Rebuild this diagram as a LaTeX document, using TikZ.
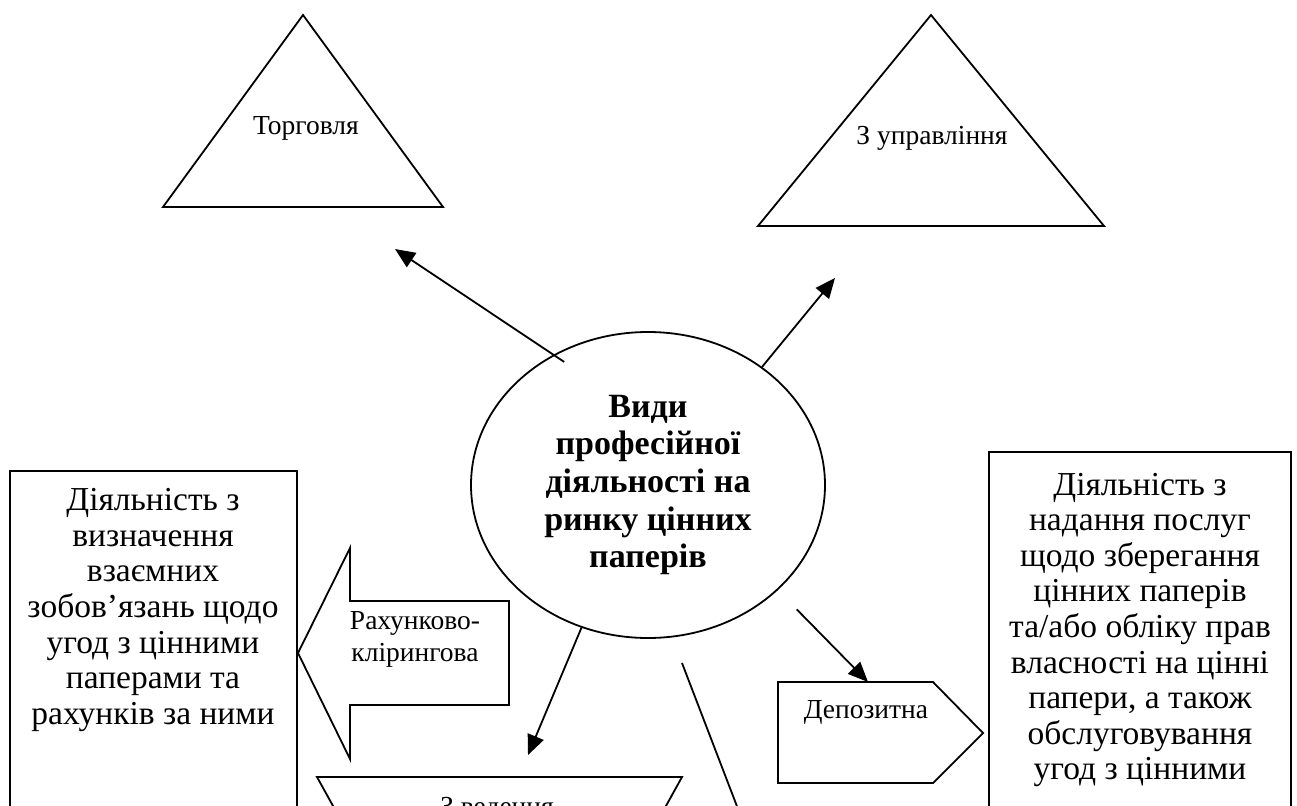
\documentclass[tikz,border=0pt]{standalone}
\usepackage{fontspec}
\setmainfont{Liberation Serif}
\usepackage{tikz}
\usetikzlibrary{arrows.meta,shapes}
\newcommand{\linew}{1.8pt}
\newcommand{\lblfont}{\fontsize{27.5}{32}\selectfont}
\newcommand{\boxfont}{\fontsize{33.5}{35.6}\selectfont}

\begin{document}
\begin{tikzpicture}[x=1pt, y=-1pt, line width=\linew]
                %\draw[help lines] (0,0) grid[step=50] (1297,805);
                \tikzset{lbl/.style = {font=\lblfont, inner sep=0pt, align=center}}
                \tikzset{boxtxt/.style = {font=\boxfont, inner sep=0pt, align=center}}
                \tikzset{arr/.style = {-{Triangle[length=20pt,width=17pt]}}}
                \useasboundingbox (0,0) rectangle (1297,805);
                \clip (0,0) rectangle (1297,805);

                % centre
                \node[ellipse, draw, minimum width=354pt, minimum height=306pt, inner sep=0pt,
                      font=\fontsize{34}{37.7}\selectfont\bfseries, align=center] (ell) at (648,485)
                      {Види\\професійної\\діяльності на\\ринку цінних\\паперів};

                % triangles
                \draw (303,15) -- (443,207) -- (163,207) -- cycle;
                \node[lbl] (torg) at (306,128) {Торговля};
                \draw (931,15) -- (1104,226) -- (758,226) -- cycle;
                \node[lbl] (upr) at (932,138) {З управління};

                % left
                \draw (10,900) -- (10,471) -- (297,471) -- (297,900);
                \node[boxtxt] (ltxt) at (153,610) {Діяльність з\\визначення\\взаємних\\зобов’язань щодо\\угод з цінними\\паперами та\\рахунків за ними};
                \draw (298,653) -- (350,548) -- (350,601) -- (509,601) -- (509,705) -- (350,705) -- (350,759) -- cycle;
                \node[lbl] (rah) at (415,639) {Рахунково-\\клірингова};

                % bottom
                \draw (317,777) -- (682,777) -- (625,880) -- (374,880) -- cycle;
                \node[lbl, anchor=base] (zved) at (497,815) {З ведення};

                % right
                \draw (778,682) -- (933,682) -- (983,733) -- (933,783) -- (778,783) -- cycle;
                \node[lbl] (depo) at (866,712) {Депозитна};
                \draw (989,900) -- (989,452) -- (1291,452) -- (1291,900);
                \node[boxtxt] (rtxt) at (1140,630) {Діяльність з\\надання послуг\\щодо зберегання\\цінних паперів\\та/або обліку прав\\власності на цінні\\папери, а також\\обслуговування\\угод з цінними};

                \coordinate (torgtip) at (395,249);
                \coordinate (uprtip) at (835,278);
                \coordinate (zvedtip) at (528,755);
                \coordinate (depotip) at (868,682);
                \coordinate (lnA) at (682,663);
                \coordinate (lnB) at (748,835);
                \draw[arr, shorten <=-13pt] (ell.126) -- (torgtip);
                \draw[arr] (ell.46) -- (uprtip);
                \draw[arr] (ell.-115) -- (zvedtip);
                \draw[arr, shorten <=27pt] (ell.-39) -- (depotip);
                \draw (lnA) -- (lnB);
        \end{tikzpicture}
\end{document}
